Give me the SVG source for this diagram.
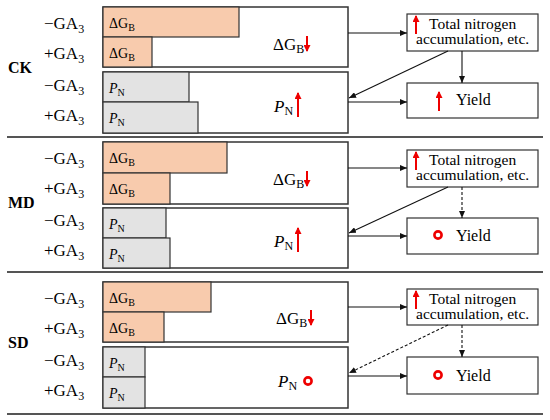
<svg xmlns="http://www.w3.org/2000/svg" width="550" height="420" viewBox="0 0 550 420">
<defs>
<style>
.panel{fill:#fff;stroke:#333;stroke-width:1.5}
.gb{fill:#F8CBAD;stroke:#333;stroke-width:1.2}
.pn{fill:#E3E3E3;stroke:#333;stroke-width:1.2}
.box{fill:#fff;stroke:#333;stroke-width:1.2}
.sep{stroke:#555;stroke-width:2}
.con{stroke:#111;stroke-width:1.1;fill:none;marker-end:url(#ah)}
.dash{stroke-dasharray:3,2}
.red{stroke:#E00;stroke-width:2;fill:none;marker-end:url(#rh)}
.ring{fill:none;stroke:#E00;stroke-width:2.6}
</style>
<marker id="ah" markerWidth="7" markerHeight="6" refX="7" refY="3" orient="auto" markerUnits="userSpaceOnUse"><path d="M0,0 L7,3 L0,6 z" fill="#111"/></marker>
<marker id="rh" markerWidth="7" markerHeight="7" refX="6" refY="3.5" orient="auto" markerUnits="userSpaceOnUse"><path d="M0,0 L7,3.5 L0,7 z" fill="#E00"/></marker>
</defs>
<g id="separators">
<line class="sep" x1="7" y1="137" x2="543" y2="137"/>
<line class="sep" x1="7" y1="272" x2="543" y2="272"/>
<line class="sep" x1="7" y1="414" x2="543" y2="414"/>
</g>
<g id="CK">
<g id="ck-labels">
<text font-family="Liberation Serif" font-size="16" font-weight="bold" x="8" y="73">CK</text>
<text font-family="Liberation Serif" font-size="17" x="44" y="29">−GA<tspan font-size="12" dy="4">3</tspan></text>
<text font-family="Liberation Serif" font-size="17" x="44" y="59">+GA<tspan font-size="12" dy="4">3</tspan></text>
<text font-family="Liberation Serif" font-size="17" x="44" y="91">−GA<tspan font-size="12" dy="4">3</tspan></text>
<text font-family="Liberation Serif" font-size="17" x="44" y="121">+GA<tspan font-size="12" dy="4">3</tspan></text>
</g>
<g id="ck-gb">
<rect class="panel" x="103" y="7" width="245" height="60"/>
<rect class="gb" x="103" y="7" width="136" height="30"/>
<rect class="gb" x="103" y="37" width="49" height="30"/>
<text font-family="Liberation Serif" font-size="14" x="109" y="28">ΔG<tspan font-size="10" dy="3">B</tspan></text>
<text font-family="Liberation Serif" font-size="14" x="109" y="58">ΔG<tspan font-size="10" dy="3">B</tspan></text>
<text font-family="Liberation Serif" font-size="17" x="273" y="50">ΔG<tspan font-size="12" dy="3">B</tspan></text>
<line class="red" x1="307" y1="36" x2="307" y2="51"/>
</g>
<g id="ck-pn">
<rect class="panel" x="103" y="72" width="245" height="61"/>
<rect class="pn" x="103" y="72" width="86" height="30"/>
<rect class="pn" x="103" y="102" width="95" height="31"/>
<text font-family="Liberation Serif" font-size="14" x="109" y="93"><tspan font-style="italic">P</tspan><tspan font-size="10" dy="3">N</tspan></text>
<text font-family="Liberation Serif" font-size="14" x="109" y="123"><tspan font-style="italic">P</tspan><tspan font-size="10" dy="3">N</tspan></text>
<text font-family="Liberation Serif" font-size="17" x="274" y="112"><tspan font-style="italic">P</tspan><tspan font-size="12" dy="3">N</tspan></text>
<line class="red" x1="298" y1="117" x2="298" y2="93"/>
</g>
<g id="ck-tn">
<rect class="box" x="407" y="14" width="131" height="37"/>
<line class="red" x1="416" y1="34" x2="416" y2="16"/>
<text font-family="Liberation Serif" font-size="15.5" x="429" y="29">Total nitrogen</text>
<text font-family="Liberation Serif" font-size="15.5" x="416" y="44">accumulation, etc.</text>
</g>
<g id="ck-yield">
<rect class="box" x="407" y="83" width="131" height="35"/>
<line class="red" x1="439" y1="111" x2="439" y2="92"/>
<text font-family="Liberation Serif" font-size="16" x="456" y="105">Yield</text>
</g>
<g id="ck-connectors">
<line class="con" x1="348" y1="33" x2="407" y2="33"/>
<line class="con" x1="348" y1="102" x2="407" y2="102"/>
<line class="con" x1="462" y1="51" x2="462" y2="83"/>
<line class="con" x1="448" y1="51" x2="349" y2="98"/>
</g>
</g>
<g id="MD" transform="translate(0,135)">
<g id="md-labels">
<text font-family="Liberation Serif" font-size="16" font-weight="bold" x="8" y="73">MD</text>
<text font-family="Liberation Serif" font-size="17" x="44" y="29">−GA<tspan font-size="12" dy="4">3</tspan></text>
<text font-family="Liberation Serif" font-size="17" x="44" y="59">+GA<tspan font-size="12" dy="4">3</tspan></text>
<text font-family="Liberation Serif" font-size="17" x="44" y="91">−GA<tspan font-size="12" dy="4">3</tspan></text>
<text font-family="Liberation Serif" font-size="17" x="44" y="121">+GA<tspan font-size="12" dy="4">3</tspan></text>
</g>
<g id="md-gb">
<rect class="panel" x="103" y="7" width="245" height="62"/>
<rect class="gb" x="103" y="7" width="124" height="31"/>
<rect class="gb" x="103" y="38" width="67" height="31"/>
<text font-family="Liberation Serif" font-size="14" x="109" y="28">ΔG<tspan font-size="10" dy="3">B</tspan></text>
<text font-family="Liberation Serif" font-size="14" x="109" y="59">ΔG<tspan font-size="10" dy="3">B</tspan></text>
<text font-family="Liberation Serif" font-size="17" x="273" y="50">ΔG<tspan font-size="12" dy="3">B</tspan></text>
<line class="red" x1="307" y1="36" x2="307" y2="51"/>
</g>
<g id="md-pn">
<rect class="panel" x="103" y="73" width="245" height="60"/>
<rect class="pn" x="103" y="73" width="63" height="30"/>
<rect class="pn" x="103" y="103" width="67" height="30"/>
<text font-family="Liberation Serif" font-size="14" x="109" y="94"><tspan font-style="italic">P</tspan><tspan font-size="10" dy="3">N</tspan></text>
<text font-family="Liberation Serif" font-size="14" x="109" y="124"><tspan font-style="italic">P</tspan><tspan font-size="10" dy="3">N</tspan></text>
<text font-family="Liberation Serif" font-size="17" x="274" y="112"><tspan font-style="italic">P</tspan><tspan font-size="12" dy="3">N</tspan></text>
<line class="red" x1="298" y1="117" x2="298" y2="93"/>
</g>
<g id="md-tn">
<rect class="box" x="407" y="15" width="131" height="37"/>
<line class="red" x1="416" y1="35" x2="416" y2="17"/>
<text font-family="Liberation Serif" font-size="15.5" x="429" y="30">Total nitrogen</text>
<text font-family="Liberation Serif" font-size="15.5" x="416" y="45">accumulation, etc.</text>
</g>
<g id="md-yield">
<rect class="box" x="407" y="83" width="131" height="36"/>
<circle class="ring" cx="438" cy="100" r="3.6"/>
<text font-family="Liberation Serif" font-size="16" x="456" y="106">Yield</text>
</g>
<g id="md-connectors">
<line class="con" x1="348" y1="33" x2="407" y2="33"/>
<line class="con" x1="348" y1="101" x2="407" y2="101"/>
<line class="con dash" x1="462" y1="52" x2="462" y2="83"/>
<line class="con" x1="448" y1="52" x2="349" y2="98"/>
</g>
</g>
<g id="SD" transform="translate(0,275)">
<g id="sd-labels">
<text font-family="Liberation Serif" font-size="16" font-weight="bold" x="8" y="73">SD</text>
<text font-family="Liberation Serif" font-size="17" x="44" y="29">−GA<tspan font-size="12" dy="4">3</tspan></text>
<text font-family="Liberation Serif" font-size="17" x="44" y="59">+GA<tspan font-size="12" dy="4">3</tspan></text>
<text font-family="Liberation Serif" font-size="17" x="44" y="91">−GA<tspan font-size="12" dy="4">3</tspan></text>
<text font-family="Liberation Serif" font-size="17" x="44" y="121">+GA<tspan font-size="12" dy="4">3</tspan></text>
</g>
<g id="sd-gb">
<rect class="panel" x="103" y="7" width="245" height="60"/>
<rect class="gb" x="103" y="7" width="108" height="30"/>
<rect class="gb" x="103" y="37" width="61" height="30"/>
<text font-family="Liberation Serif" font-size="14" x="109" y="28">ΔG<tspan font-size="10" dy="3">B</tspan></text>
<text font-family="Liberation Serif" font-size="14" x="109" y="58">ΔG<tspan font-size="10" dy="3">B</tspan></text>
<text font-family="Liberation Serif" font-size="17" x="276" y="49">ΔG<tspan font-size="12" dy="3">B</tspan></text>
<line class="red" x1="311" y1="35" x2="311" y2="50"/>
</g>
<g id="sd-pn">
<rect class="panel" x="103" y="72" width="245" height="61"/>
<rect class="pn" x="103" y="72" width="42" height="30"/>
<rect class="pn" x="103" y="102" width="42" height="31"/>
<text font-family="Liberation Serif" font-size="14" x="109" y="93"><tspan font-style="italic">P</tspan><tspan font-size="10" dy="3">N</tspan></text>
<text font-family="Liberation Serif" font-size="14" x="109" y="123"><tspan font-style="italic">P</tspan><tspan font-size="10" dy="3">N</tspan></text>
<text font-family="Liberation Serif" font-size="17" x="278" y="112"><tspan font-style="italic">P</tspan><tspan font-size="12" dy="3">N</tspan></text>
<circle class="ring" cx="308" cy="106" r="3.6"/>
</g>
<g id="sd-tn">
<rect class="box" x="407" y="14" width="131" height="36"/>
<line class="red" x1="416" y1="34" x2="416" y2="16"/>
<text font-family="Liberation Serif" font-size="15.5" x="429" y="29">Total nitrogen</text>
<text font-family="Liberation Serif" font-size="15.5" x="416" y="44">accumulation, etc.</text>
</g>
<g id="sd-yield">
<rect class="box" x="407" y="82" width="131" height="37"/>
<circle class="ring" cx="438" cy="100" r="3.6"/>
<text font-family="Liberation Serif" font-size="16" x="456" y="106">Yield</text>
</g>
<g id="sd-connectors">
<line class="con" x1="348" y1="32" x2="407" y2="32"/>
<line class="con" x1="348" y1="101" x2="407" y2="101"/>
<line class="con dash" x1="462" y1="50" x2="462" y2="82"/>
<line class="con dash" x1="448" y1="50" x2="349" y2="98"/>
</g>
</g>
</svg>
